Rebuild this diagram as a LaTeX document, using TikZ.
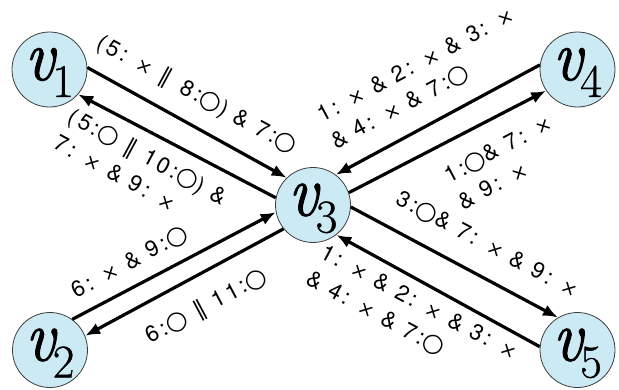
\documentclass[tikz,border=0pt]{standalone}
\usepackage{fontspec}
\newfontfamily\lblfont[LetterSpace=14]{TeX Gyre Heros}
\newfontfamily\symfont{DejaVu Sans}
\newfontfamily\vfont[FakeBold=1.6]{Latin Modern Roman}
\newfontfamily\subfont[FakeBold=0.8]{Latin Modern Roman}
\usetikzlibrary{arrows.meta}
\definecolor{nodefill}{RGB}{204,234,244}
\definecolor{nodeline}{RGB}{60,60,60}
\newcommand{\cir}{{\symfont\scalebox{1.12}{○}}}
\newcommand{\pll}{{\symfont ∥}}
\newcommand{\tms}{{\symfont\scalebox{0.85}{×}}}
\newcommand{\vlab}[1]{\raisebox{-10.5pt}[0pt][0pt]{\scalebox{0.9}[1]{\vfont\fontsize{72}{72}\selectfont\itshape v}\kern-2pt\raisebox{-17pt}{\subfont\fontsize{47}{47}\selectfont #1}}}
\begin{document}
\begin{tikzpicture}[x=1pt,y=-1pt,
  vert/.style={circle,draw=nodeline,line width=0.8pt,fill=nodefill,minimum size=75pt,inner sep=0pt},
  conn/.style={line width=3.2pt,-{Latex[length=15pt,width=12pt]}},
  lbl/.style={font=\lblfont\fontsize{22.5}{30}\selectfont,inner sep=0pt,align=left,text=black}]
\useasboundingbox (0,0) rectangle (619,389);
\node[vert] (v1) at (49.5,69.5) {\vlab{1}};
\node[vert] (v2) at (50,350) {\vlab{2}};
\node[vert] (v3) at (313,205) {\vlab{3}};
\node[vert] (v4) at (577.5,69.5) {\vlab{4}};
\node[vert] (v5) at (577.5,350) {\vlab{5}};
% connectors
\draw[conn] (v1.3.8) -- (v3.134);
\draw[conn] (v3.169) -- (v1.-41.6);
\draw[conn] (v4.173) -- (v3.53);
\draw[conn] (v3.19) -- (v4.214.7);
\draw[conn] (v2.54.6) -- (v3.191);
\draw[conn] (v3.219) -- (v2.22);
\draw[conn] (v3.-3) -- (v5.121.8);
\draw[conn] (v5.175) -- (v3.-52);
% labels
\node[lbl,rotate=-28.5] (l1) at (196.5,95) {(5: \tms{} \pll{}\, 8:\cir) \& 7:\cir};
\node[lbl,rotate=-28.5] (l2) at (141,169) {(5:\cir{} \pll{} 10:\cir) \&\\7: \tms{} \& 9: \tms};
\node[lbl,rotate=28] (l3) at (130,262.5) {6: \tms{} \& 9:\cir};
\node[lbl,rotate=28] (l4) at (207,306.5) {6:\cir{} \pll{} 11:\cir};
\node[lbl,rotate=28] (l5) at (423,79) {1: \tms{} \& 2: \tms{} \& 3: \tms\\\& 4: \tms{} \& 7:\cir};
\node[lbl,rotate=28] (l6) at (505,162) {1:\cir\& 7: \tms\\\& 9: \tms};
\node[lbl,rotate=-28] (l7) at (487,245) {3:\cir\& 7: \tms{} \& 9: \tms};
\node[lbl,rotate=-28] (l8) at (411.5,316.5) {1: \tms{} \& 2: \tms{} \& 3: \tms\\\& 4: \tms{} \& 7:\cir};
\end{tikzpicture}
\end{document}
